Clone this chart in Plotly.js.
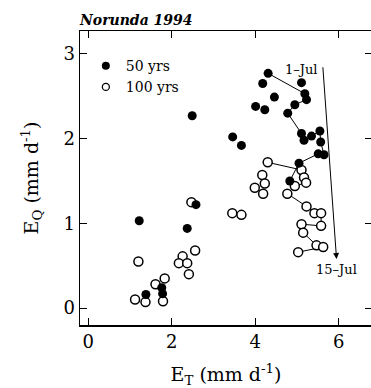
<!DOCTYPE html>
<html>
<head>
<meta charset="utf-8">
<script src="https://cdn.plot.ly/plotly-3.0.1.min.js"></script>
<style>
html,body{margin:0;padding:0;overflow:hidden;background:#fff;}
#chart{width:373px;height:388px;}
</style>
</head>
<body>
<div id="chart"></div>
<script>
// 50-yr stand: scattered days (not connected)
const et50 = [4.18, 5.11, 4.46, 4.01, 4.23, 2.49, 3.46, 3.67, 1.22, 2.58, 2.37, 1.38, 1.76, 1.78];
const eq50 = [2.65, 2.66, 2.49, 2.38, 2.34, 2.27, 2.02, 1.92, 1.03, 1.22, 0.94, 0.16, 0.24, 0.17];
// 50-yr stand: 1-Jul .. 15-Jul sequence (connected)
const et50Jul = [4.31, 5.19, 5.23, 4.95, 4.78, 5.11, 5.17, 5.35, 5.55, 5.57, 5.65, 5.51, 5.05, 4.83];
const eq50Jul = [2.77, 2.53, 2.46, 2.40, 2.30, 2.06, 1.98, 2.03, 2.09, 1.96, 1.81, 1.82, 1.71, 1.50];

// 100-yr stand: scattered days
const et100 = [4.17, 4.23, 3.99, 4.19, 3.45, 3.67, 2.47, 1.20, 2.26, 2.56, 2.17, 2.37, 2.41, 1.83, 1.61, 1.12, 1.37, 1.79];
const eq100 = [1.57, 1.47, 1.42, 1.35, 1.12, 1.10, 1.25, 0.55, 0.61, 0.68, 0.53, 0.53, 0.40, 0.35, 0.28, 0.10, 0.07, 0.08];
// 100-yr stand: 1-Jul .. 15-Jul sequence
const et100Jul = [4.30, 5.11, 5.17, 5.22, 4.95, 4.77, 5.23, 5.42, 5.58, 5.58, 5.11, 5.15, 5.47, 5.63, 5.03];
const eq100Jul = [1.72, 1.63, 1.54, 1.48, 1.44, 1.35, 1.20, 1.12, 1.12, 0.97, 0.99, 0.89, 0.74, 0.72, 0.66];

const seriesNames = ['50 yrs', '100 yrs'];
const xTicks = [0, 2, 4, 6];
const yTicks = [0, 1, 2, 3];
// time arrow (start label / end label)
const arrowX = [5.62, 5.95];
const arrowY = [2.86, 0.58];
const arrowLabels = ['1\u2013Jul', '15\u2013Jul'];
const labelX = [5.12, 5.94];
const labelY = [2.82, 0.46];

const F = 'DejaVu Serif, serif';
const openMarker = {symbol: 'circle', size: 9, color: '#fff', line: {color: '#000', width: 1.5}};
const fillMarker = {symbol: 'circle', size: 9, color: '#000', line: {color: '#000', width: 0}};
const openLegend = {symbol: 'circle', size: 7, color: '#fff', line: {color: '#000', width: 1.3}};
const fillLegend = {symbol: 'circle', size: 8, color: '#000', line: {color: '#000', width: 0}};

const traces = [
  {x: et100Jul, y: eq100Jul, mode: 'lines+markers', line: {color: '#000', width: 1}, marker: openMarker, showlegend: false},
  {x: et100, y: eq100, mode: 'markers', marker: openMarker, name: seriesNames[1], showlegend: false},
  {x: et50Jul, y: eq50Jul, mode: 'lines+markers', line: {color: '#000', width: 1}, marker: fillMarker, showlegend: false},
  {x: et50, y: eq50, mode: 'markers', marker: fillMarker, name: seriesNames[0], showlegend: false},
  {x: [null], y: [null], mode: 'markers', marker: fillLegend, name: seriesNames[0], showlegend: true, legendrank: 1},
  {x: [null], y: [null], mode: 'markers', marker: openLegend, name: seriesNames[1], showlegend: true, legendrank: 2}
];

const axisCommon = {
  showgrid: false, zeroline: false, showline: true, linecolor: '#000', linewidth: 1.5,
  mirror: 'ticks', ticks: 'inside', ticklen: 7, tickwidth: 1, tickcolor: '#000',
  tickfont: {family: F, size: 18, color: '#000'}
};

const layout = {
  width: 373, height: 388,
  margin: {l: 80, r: 1, t: 31, b: 63},
  paper_bgcolor: '#fff', plot_bgcolor: '#fff',
  font: {family: F, color: '#000'},
  title: {text: '<b><i>Norunda 1994</i></b>', x: 80/373, xanchor: 'left', xref: 'container', y: 1 - 20/388, yanchor: 'middle',
          font: {family: F, size: 14, color: '#000'}},
  xaxis: Object.assign({}, axisCommon, {
    range: [-0.2, 6.8], tickvals: xTicks, ticktext: xTicks.map(String),
    title: {text: 'E<sub>T</sub> (mm d<sup>-1</sup>)', font: {family: F, size: 19}, standoff: 18}
  }),
  yaxis: Object.assign({}, axisCommon, {
    range: [-0.2, 3.27], tickvals: yTicks, ticktext: yTicks.map(String),
    title: {text: 'E<sub>Q</sub> (mm d<sup>-1</sup>)', font: {family: F, size: 19}, standoff: 20}
  }),
  showlegend: true,
  legend: {x: 0.02, y: 0.935, xanchor: 'left', yanchor: 'top', bgcolor: 'rgba(0,0,0,0)',
           font: {family: F, size: 14, color: '#000'}, tracegroupgap: 0, itemwidth: 30},
  annotations: [
    {x: arrowX[1], y: arrowY[1], ax: arrowX[0], ay: arrowY[0], xref: 'x', yref: 'y', axref: 'x', ayref: 'y',
     showarrow: true, arrowhead: 2, arrowsize: 1.2, arrowwidth: 1, arrowcolor: '#000', text: ''},
    {x: labelX[0], y: labelY[0], xref: 'x', yref: 'y', text: arrowLabels[0], showarrow: false,
     font: {family: F, size: 13, color: '#000'}},
    {x: labelX[1], y: labelY[1], xref: 'x', yref: 'y', text: arrowLabels[1], showarrow: false,
     font: {family: F, size: 13, color: '#000'}}
  ]
};

Plotly.newPlot('chart', traces, layout, {displayModeBar: false, staticPlot: true});
</script>
</body>
</html>
